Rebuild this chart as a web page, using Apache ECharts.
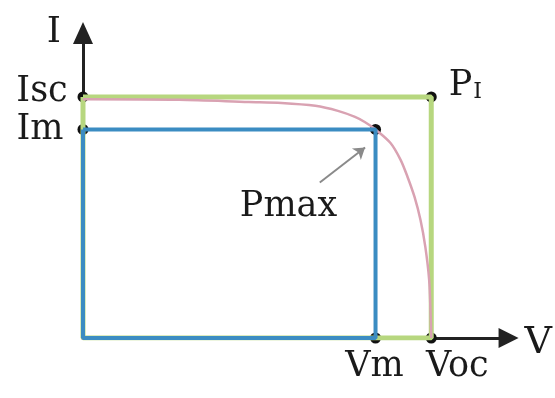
<!DOCTYPE html>
<html>
<head>
<meta charset="utf-8">
<script src="https://cdn.jsdelivr.net/npm/echarts@6/dist/echarts.min.js"></script>
<style>
  html, body { margin: 0; padding: 0; background: #fff; }
  #chart { width: 555px; height: 398px; }
</style>
</head>
<body>
<div id="chart"></div>
<script>
// I-V curve of a solar cell, normalised so that Isc = 10 and Voc = 10
const curveV = [0, 2.76, 4.76, 5.7, 6.67, 7.32, 7.81, 8.09, 8.38, 8.83, 9.12, 9.32, 9.52, 9.69, 9.83, 9.94, 9.98, 10];
const curveI = [9.9, 9.88, 9.79, 9.75, 9.63, 9.42, 9.17, 8.96, 8.67, 8.09, 7.39, 6.68, 5.85, 4.9, 3.78, 2.41, 1.04, 0];

const Isc = 10, Voc = 10;
const Im = 8.65, Vm = 8.4;

// marked points
const pointNames = ['Isc', 'Im', 'PI', 'Pmax', 'Vm', 'Voc'];
const pointV = [0, 0, Voc, Vm, Vm, Voc];
const pointI = [Isc, Im, Isc, Im, 0, 0];

// pointer from the "Pmax" text to the point
const pointerFrom = [6.8, 6.45];
const pointerTo = [8.1, 7.9];

const FONT = 'DejaVu Serif';
const labelOffset = {
  Isc: [-41, -5],
  Im: [-43, 0],
  PI: [34, -11],
  Pmax: [-87, 77],
  Vm: [-1, 29],
  Voc: [26, 29]
};

const rect = (v, i) => [[0, i], [v, i], [v, 0], [0, 0], [0, i]];

const chart = echarts.init(document.getElementById('chart'));

chart.setOption({
  animation: false,
  grid: { left: 83, right: 43, top: 33, bottom: 60 },
  xAxis: {
    type: 'value', min: 0, max: 12.22,
    name: 'V', nameLocation: 'end', nameGap: 16,
    nameTextStyle: { fontFamily: FONT, fontSize: 38, color: '#1a1a1a', verticalAlign: 'top', padding: [-14, 0, 0, 0] },
    axisLine: { show: true, lineStyle: { color: '#222', width: 3 }, symbol: ['none', 'triangle'], symbolSize: [20, 20] },
    axisTick: { show: false }, axisLabel: { show: false }, splitLine: { show: false }
  },
  yAxis: {
    type: 'value', min: 0, max: 12.65,
    name: 'I', nameLocation: 'end', nameGap: 0,
    nameTextStyle: { fontFamily: FONT, fontSize: 36, color: '#1a1a1a', align: 'right', verticalAlign: 'middle', padding: [0, 22, 24, 0] },
    axisLine: { show: true, lineStyle: { color: '#222', width: 3 }, symbol: ['none', 'triangle'], symbolSize: [20, 22] },
    axisTick: { show: false }, axisLabel: { show: false }, splitLine: { show: false }
  },
  series: [
    {
      type: 'line', data: rect(Voc, Isc), symbol: 'none',
      lineStyle: { color: '#b7d77f', width: 5 }
    },
    {
      type: 'line', data: curveV.map((v, k) => [v, curveI[k]]), symbol: 'none',
      smooth: 0.3,
      lineStyle: { color: '#d9a2b2', width: 2.5 }
    },
    {
      type: 'line', data: rect(Vm, Im), symbol: 'none',
      lineStyle: { color: '#3b8cc2', width: 4 },
      markLine: {
        silent: true, symbol: ['none', 'arrow'], symbolSize: 11,
        label: { show: false },
        lineStyle: { color: '#8a8a8a', width: 2, type: 'solid' },
        data: [[{ coord: pointerFrom }, { coord: pointerTo }]]
      }
    },
    {
      type: 'scatter', symbolSize: 11, itemStyle: { color: '#111', opacity: 1 },
      data: pointNames.map((n, k) => ({
        name: n, value: [pointV[k], pointI[k]],
        label: { offset: labelOffset[n] }
      })),
      label: {
        show: true, position: 'inside',
        fontFamily: FONT, fontSize: 35, color: '#1a1a1a',
        formatter: p => p.name === 'PI' ? 'P{s|I}' : p.name,
        rich: { s: { fontFamily: FONT, fontSize: 22, color: '#1a1a1a', padding: [12, 0, 0, 1] } }
      }
    }
  ]
});
</script>
</body>
</html>
